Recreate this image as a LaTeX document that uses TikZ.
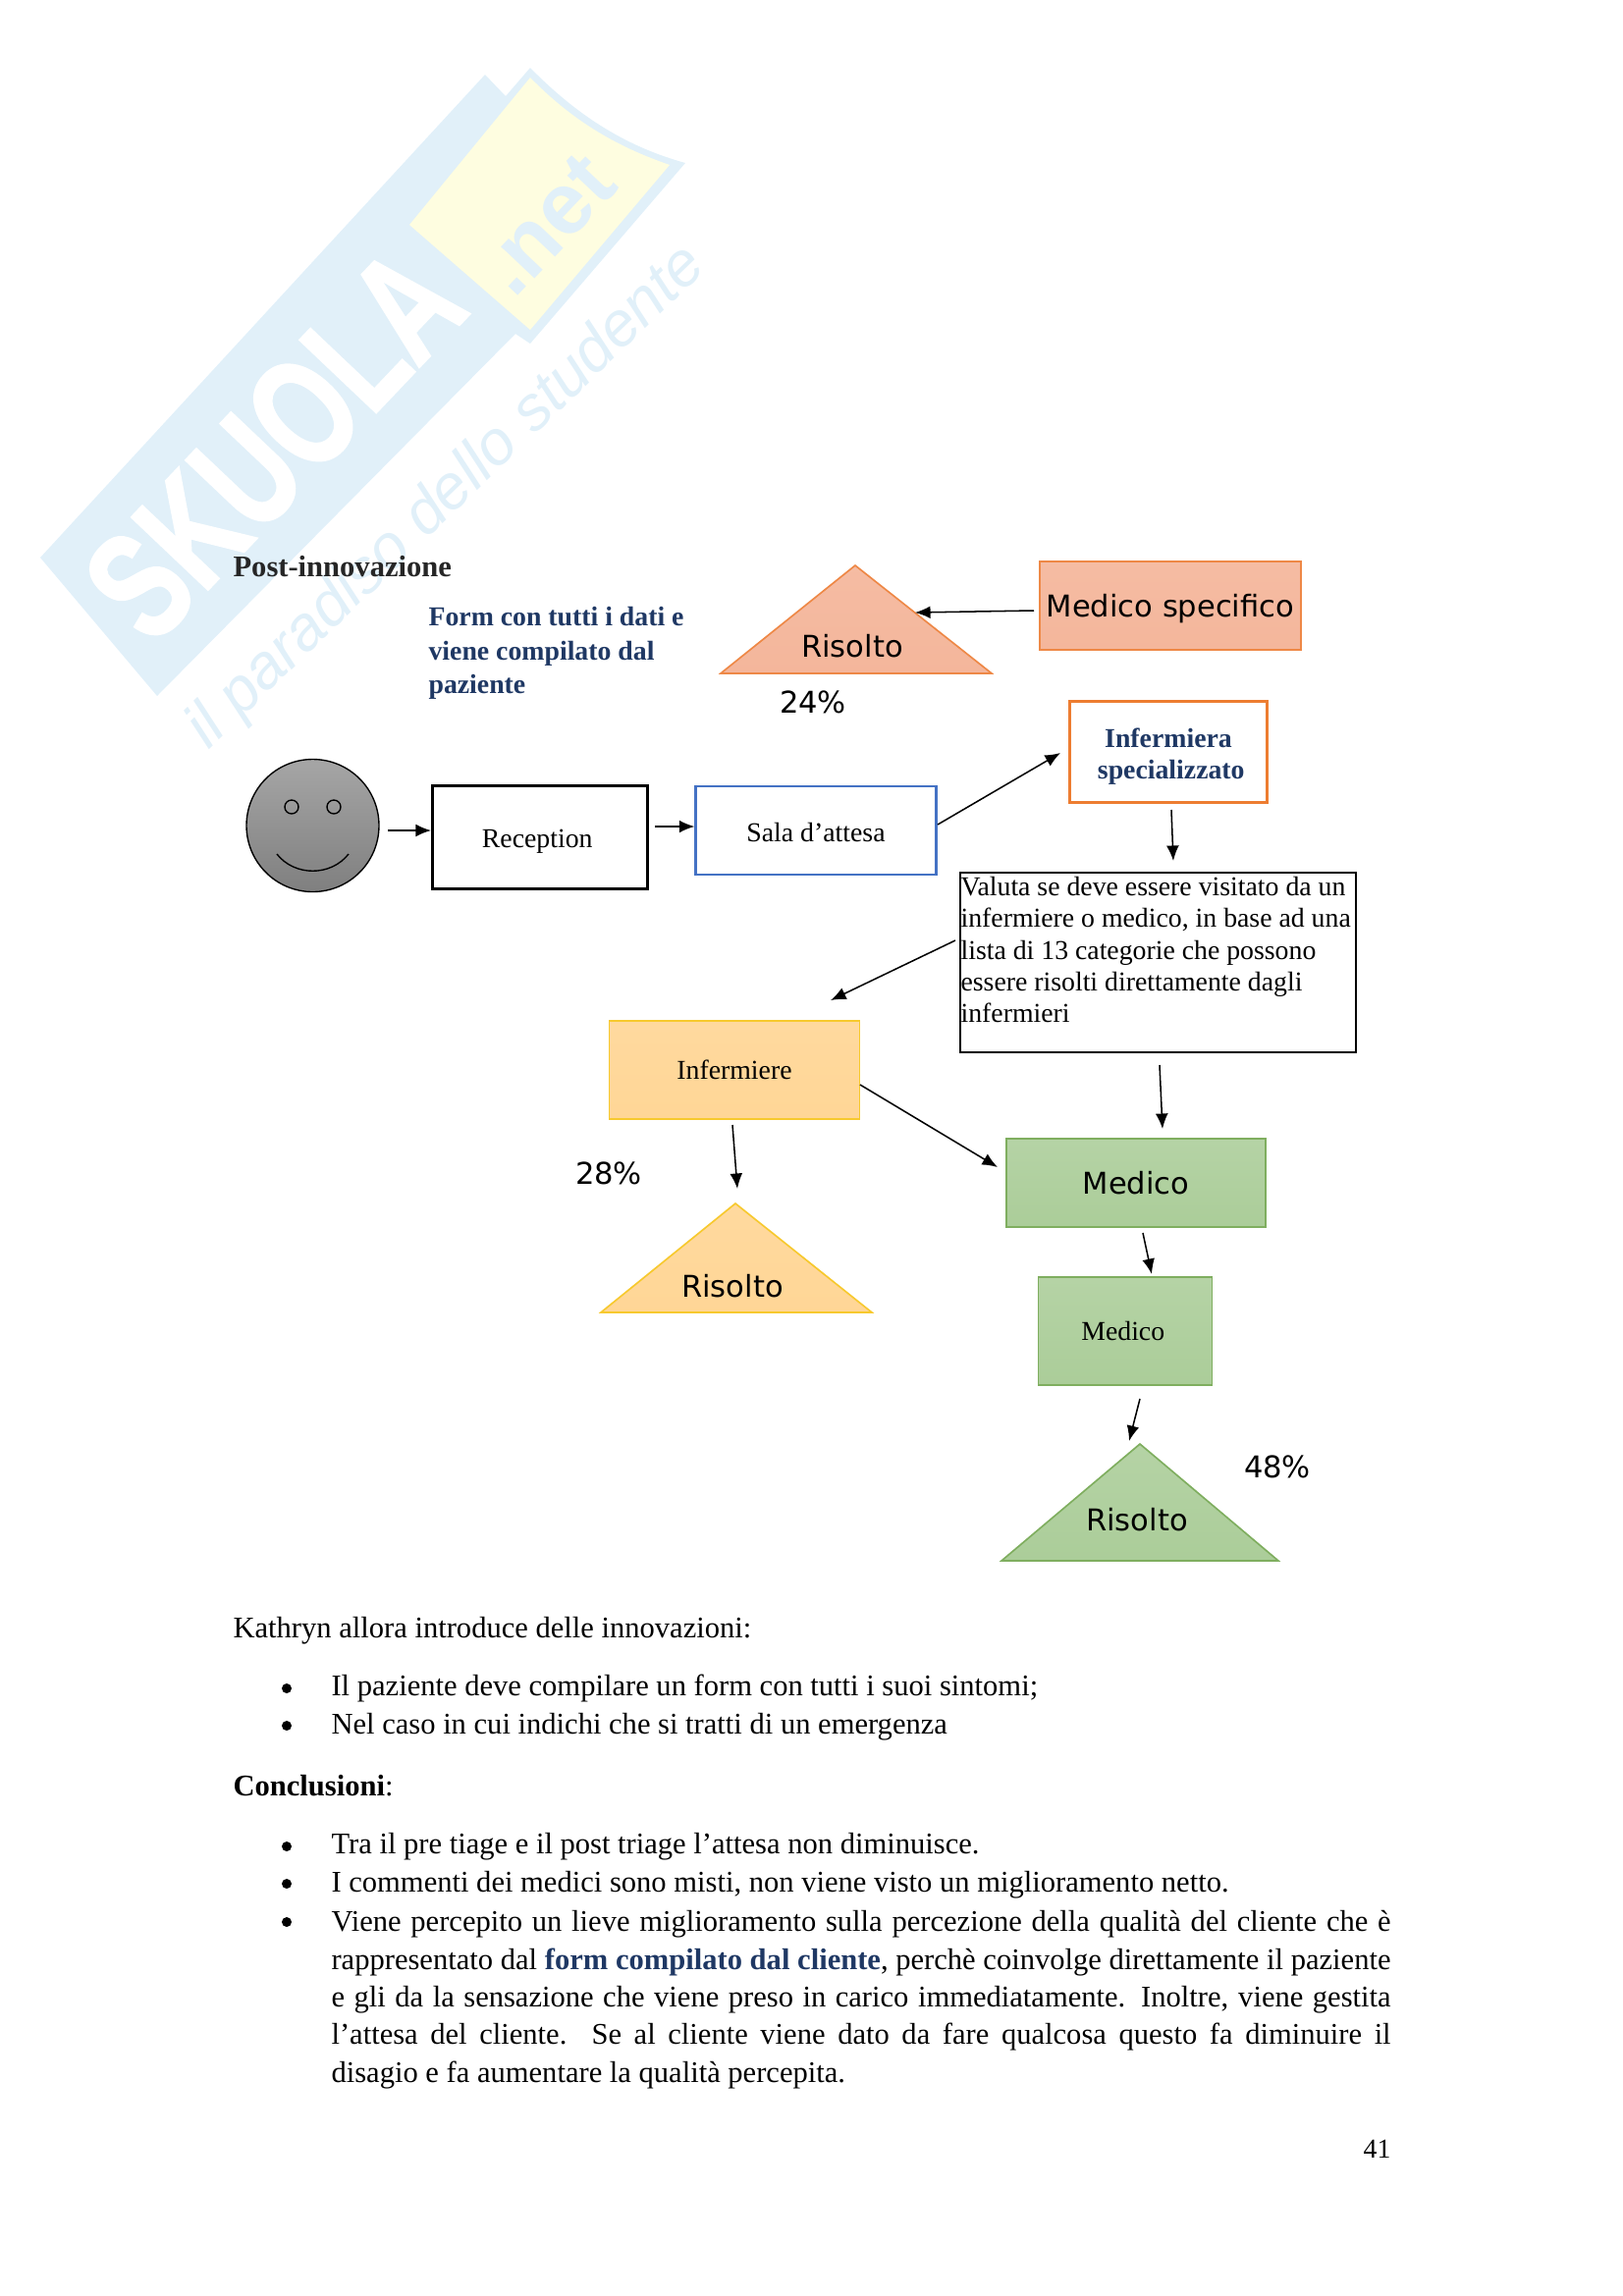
\documentclass[tikz,border=0pt]{standalone}
\usepackage{fontspec}
\setmainfont{Liberation Serif}
\newfontfamily\dejavu{DejaVu Sans}
\newfontfamily\wmfont{Liberation Sans}
\newfontfamily\wmheavy[FakeBold=1.6]{Liberation Sans}
\usetikzlibrary{arrows.meta}
\definecolor{wmblue}{HTML}{E1F0F9}
\definecolor{wmyellow}{HTML}{FEFDE0}
\definecolor{navy}{HTML}{1F3864}
\definecolor{orangeF}{HTML}{F4B69B}
\definecolor{orangeL}{HTML}{ED7D31}
\definecolor{yellowF}{HTML}{FFD696}
\definecolor{yellowL}{HTML}{F7C92E}
\definecolor{greenF}{HTML}{ABCD99}
\definecolor{greenL}{HTML}{7FAE5F}
\definecolor{blueL}{HTML}{4472C4}
\def\pxu{0.36pt}
\newcommand{\lowered}[2]{\raisebox{-#1}[\height][\depth]{#2}}
\tikzset{
  x=0.36pt,y=-0.36pt,
  conn/.style={-{Latex[length=5.6pt,width=4.6pt]},line width=0.55pt,black},
  txt/.style={anchor=base west,inner sep=0pt,font=\fontsize{11}{13.6}\selectfont},
  boxlab/.style={inner sep=0pt,font=\fontsize{10}{12}\selectfont,align=center},
  djv/.style={inner sep=0pt,font=\dejavu\fontsize{11}{13}\selectfont},
  orangebox/.style={draw=orangeL!80!orangeF,line width=0.6pt,top color=orangeF!92!white,bottom color=orangeF},
  yellowbox/.style={draw=yellowL,line width=0.6pt,top color=yellowF!92!white,bottom color=yellowF},
  greenbox/.style={draw=greenL,line width=0.6pt,top color=greenF!88!white,bottom color=greenF},
  plainbox/.style={draw=#1,fill=white},
  bul/.style={circle,fill=black,inner sep=0pt,minimum size=3.6pt},
}
\begin{document}
\begin{tikzpicture}
\useasboundingbox (0,0) rectangle (1653,2339);
% watermark
\fill[wmblue] (41,568) -- (494,76) -- (515,98) -- (540,69) .. controls (590,120) and (640,150) .. (698,166) -- (540,350) -- (525,340) -- (160,709) -- cycle;
\fill[wmyellow] (540,79) .. controls (585,125) and (630,150) .. (682,168) -- (540,336) -- (417,229) -- cycle;
\node[rotate=46.5,text=white,inner sep=0pt,font=\wmheavy\bfseries\fontsize{56}{60}\selectfont] (wmA) at (279,452) {\scalebox{0.72}[1]{SKUOLA}};
\node[rotate=46.5,text=wmblue,inner sep=0pt,font=\wmfont\bfseries\fontsize{32}{34}\selectfont] (wmB) at (557,229) {.net};
\node[rotate=44,text=wmblue,inner sep=0pt,font=\wmfont\itshape\fontsize{23}{26}\selectfont] (wmC) at (455,507) {il paradiso dello studente};

% headings
\node[txt,font=\bfseries\fontsize{11}{13.6}\selectfont,text=black!85] (post) at (237,587) {Post-innovazione};
\node[anchor=north west,inner sep=0pt,align=left,text=navy,font=\bfseries\fontsize{10}{12.3}\selectfont] (form) at (436,618) {Form con tutti i dati e\\viene compilato dal\\paziente};

% smiley
\node[circle,draw=black,line width=0.5pt,top color=black!35,bottom color=black!50,minimum size=135*\pxu,inner sep=0pt] (face) at (318.5,841) {};
\node[circle,draw=black,line width=0.5pt,top color=black!38,bottom color=black!42,minimum size=14*\pxu,inner sep=0pt] (eyeL) at (297,822) {};
\node[circle,draw=black,line width=0.5pt,top color=black!38,bottom color=black!42,minimum size=14*\pxu,inner sep=0pt] (eyeR) at (340,822) {};
\coordinate (smA) at (282,870);
\coordinate (smB) at (355,870);
\draw[line width=0.5pt] (smA) .. controls (300,893) and (337,893) .. (smB);

% boxes
\node[plainbox=black,line width=1.1pt,minimum width=219*\pxu,minimum height=105*\pxu,boxlab] (rec) at (550,853) {\lowered{1.6pt}{Reception}\hspace{2pt}};
\node[plainbox=blueL,line width=0.8pt,minimum width=245*\pxu,minimum height=90*\pxu,boxlab] (sala) at (831,846) {\lowered{0.6pt}{Sala d’attesa}};
\node[plainbox=orangeL,line width=0.8pt,minimum width=201*\pxu,minimum height=103*\pxu,boxlab,font=\bfseries\fontsize{10}{11.5}\selectfont,text=navy] (infs) at (1190,766) {\lowered{1.6pt}{Infermiera}\hspace{1pt}\\\lowered{1.6pt}{\hspace{2pt}specializzato}};
\node[orangebox,minimum width=266*\pxu,minimum height=90*\pxu,djv] (mspec) at (1192,617) {\lowered{1pt}{Medico specifico}};
\node[yellowbox,minimum width=255*\pxu,minimum height=100*\pxu,boxlab] (inf) at (748,1090) {Infermiere};
\node[greenbox,minimum width=264*\pxu,minimum height=90*\pxu,djv] (med1) at (1157,1205) {Medico};
\node[greenbox,minimum width=177*\pxu,minimum height=110*\pxu,boxlab] (med2) at (1146,1356) {Medico\hspace{1.6pt}};
\node[plainbox=black,line width=0.6pt,anchor=north west,minimum width=403*\pxu,minimum height=183*\pxu,inner sep=0pt] (val) at (977,888) {};
\node[anchor=north west,inner sep=0pt,align=left,font=\fontsize{10}{11.55}\selectfont] (valtxt) at (978,893) {Valuta se deve essere visitato da un\\infermiere o medico, in base ad una\\lista di 13 categorie che possono\\essere risolti direttamente dagli\\infermieri};

% triangles
\coordinate (tOa) at (871,576); \coordinate (tOb) at (734,686); \coordinate (tOc) at (1010,686);
\filldraw[orangebox] (tOa) -- (tOb) -- (tOc) -- cycle;
\node[djv] (lO) at (868,658) {Risolto};
\coordinate (tYa) at (749,1226); \coordinate (tYb) at (612,1337); \coordinate (tYc) at (888,1337);
\filldraw[yellowbox] (tYa) -- (tYb) -- (tYc) -- cycle;
\node[djv] (lY) at (746,1310) {Risolto};
\coordinate (tGa) at (1161,1471); \coordinate (tGb) at (1020,1590); \coordinate (tGc) at (1302,1590);
\filldraw[greenbox] (tGa) -- (tGb) -- (tGc) -- cycle;
\node[djv] (lG) at (1158,1548) {Risolto};

% percentages
\node[djv] (p24) at (828,715) {24\%};
\node[djv] (p28) at (620,1195) {28\%};
\node[djv] (p48) at (1301,1494) {48\%};

% connectors
\coordinate (a1) at (395,846);
\coordinate (a2) at (667,842);
\coordinate (a3) at (955,840);
\coordinate (a3e) at (1080,767);
\coordinate (a4) at (1193,825);
\coordinate (a4e) at (1195,877);
\coordinate (a5) at (973,958);
\coordinate (a5e) at (846,1019);
\coordinate (a6) at (1181,1085);
\coordinate (a6e) at (1184,1150);
\coordinate (a7) at (746,1146);
\coordinate (a7e) at (751,1211);
\coordinate (a8) at (876,1105);
\coordinate (a8e) at (1016,1189);
\coordinate (a9) at (1164,1256);
\coordinate (a9e) at (1173,1298);
\coordinate (a10) at (1161,1425);
\coordinate (a10e) at (1150,1468);
\coordinate (a11) at (1053,622);
\coordinate (a11e) at (932,624);
\draw[conn] (a1) -- (rec.west |- a1);
\draw[conn] (a2) -- (sala.west |- a2);
\draw[conn] (a3) -- (a3e);
\draw[conn] (a4) -- (a4e);
\draw[conn] (a5) -- (a5e);
\draw[conn] (a6) -- (a6e);
\draw[conn] (a7) -- (a7e);
\draw[conn] (a8) -- (a8e);
\draw[conn] (a9) -- (a9e);
\draw[conn] (a10) -- (a10e);
\draw[conn] (a11) -- (a11e);

% body text
\node[txt] (t1) at (237,1668) {Kathryn allora introduce delle innovazioni:};
\node[bul] (b1) at (292,1720) {};
\node[txt] (t2) at (337,1727.5) {Il paziente deve compilare un form con tutti i suoi sintomi;};
\node[bul] (b2) at (292,1758) {};
\node[txt] (t3) at (337,1766.5) {Nel caso in cui indichi che si tratti di un emergenza};
\node[txt] (t4) at (237,1829.5) {\textbf{Conclusioni}:};
\node[bul] (b3) at (292,1881) {};
\node[txt] (t5) at (337,1888.5) {Tra il pre tiage e il post triage l’attesa non diminuisce.};
\node[bul] (b4) at (292,1919) {};
\node[txt] (t6) at (337,1927.5) {I commenti dei medici sono misti, non viene visto un miglioramento netto.};
\node[bul] (b5) at (292,1958) {};
\node[anchor=north west,inner sep=0pt,text width=1079*\pxu,align=justify,font=\fontsize{11}{13.8}\selectfont] (t7) at (337,1946) {Viene percepito un lieve miglioramento sulla percezione della qualità del cliente che è\linebreak rappresentato dal {\bfseries\color{navy}form compilato dal cliente}, perchè coinvolge direttamente il paziente\linebreak e gli da la sensazione che viene preso in carico immediatamente. Inoltre, viene gestita\linebreak l’attesa del cliente. Se al cliente viene dato da fare qualcosa questo fa diminuire il\linebreak disagio e fa aumentare la qualità percepita.};
\node[anchor=base east,inner sep=0pt,font=\fontsize{10}{12}\selectfont] (pg) at (1417,2198) {41};
\end{tikzpicture}
\end{document}
